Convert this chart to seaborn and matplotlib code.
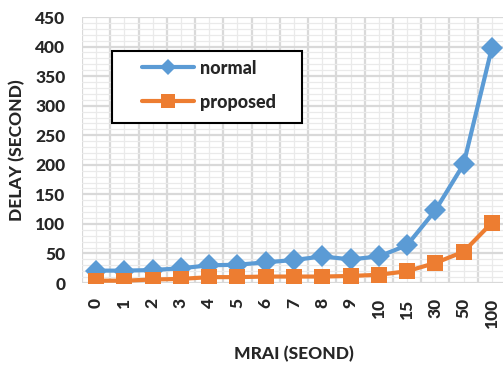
import matplotlib
matplotlib.use("Agg")
import matplotlib.pyplot as plt
import seaborn as sns
import pandas as pd
from matplotlib.patches import Rectangle
from matplotlib.ticker import MultipleLocator, FixedLocator

# MRAI settings and measured delays
mrai = ["0", "1", "2", "3", "4", "5", "6", "7", "8", "9", "10", "15", "30", "50", "100"]
normal = [21, 21, 22, 25, 30, 31, 35, 39, 45, 40, 45, 64, 123, 201, 398]
proposed = [4, 4, 6, 7, 10, 10, 11, 11, 11, 12, 14, 20, 34, 53, 102]

sns.set_style("white")
plt.rcParams["font.family"] = ["Lato", "DejaVu Sans"]
W = "black"  # heaviest weight for all text

pos = list(range(len(mrai)))
df = pd.DataFrame({
    "pos": pos * 2,
    "delay": normal + proposed,
    "series": ["normal"] * len(mrai) + ["proposed"] * len(mrai),
})

fig = plt.figure(figsize=(5.03, 3.70), dpi=100)
ax = fig.add_axes([0.163, 0.235, 0.843, 0.719])

blue = "#5B9BD5"
orange = "#ED7D31"
sns.lineplot(data=df, x="pos", y="delay", hue="series", style="series",
             palette={"normal": blue, "proposed": orange},
             markers={"normal": "D", "proposed": "s"}, dashes=False,
             linewidth=3, markeredgewidth=0, ax=ax, legend=True)
for line in ax.lines:
    if line.get_marker() == "s":
        line.set_markersize(12)
    elif line.get_marker() == "D":
        line.set_markersize(11)

ax.set_xlim(-0.5, len(mrai) - 0.5)
ax.set_ylim(0, 450)
ax.yaxis.set_major_locator(MultipleLocator(50))
ax.yaxis.set_minor_locator(MultipleLocator(10))
ax.xaxis.set_major_locator(FixedLocator(pos))
ax.xaxis.set_minor_locator(FixedLocator([p - 0.5 for p in pos] + [len(mrai) - 0.5]))
ax.set_xticklabels(mrai, rotation=90, va="top", ha="center", fontsize=12.5, fontweight=W)
for t in ax.get_yticklabels():
    t.set_fontsize(12.5)
    t.set_fontweight(W)

ax.grid(which="major", axis="y", color="#D9D9D9", linewidth=1.6)
ax.grid(which="minor", axis="y", color="#EAEAEA", linewidth=0.9)
ax.grid(which="minor", axis="x", color="#D9D9D9", linewidth=1.6)
ax.grid(which="major", axis="x", color="#EAEAEA", linewidth=0.9)
ax.set_axisbelow(True)
ax.tick_params(which="both", length=0)
ax.tick_params(axis="x", pad=11)
ax.tick_params(axis="y", pad=12)
for s in ax.spines.values():
    s.set_visible(False)

ax.set_xlabel("MRAI (SEOND)", fontsize=12.5, fontweight=W)
ax.xaxis.set_label_coords(0.5, -0.238)
ax.set_ylabel("DELAY (SECOND)", fontsize=12.5, fontweight=W)
ax.yaxis.set_label_coords(-0.134, 0.5)

# legend entries without frame, then a plain black box around them
handles, labels = ax.get_legend_handles_labels()
leg = ax.legend(handles, labels, loc="upper left", bbox_to_anchor=(0.1415, 0.84),
                borderaxespad=0, frameon=False, handlelength=2.9,
                labelspacing=0.95, borderpad=0, handletextpad=0.3,
                prop={"weight": W, "size": 13})
for h in leg.legend_handles:
    if h.get_marker() == "s":
        h.set_markersize(10)
    elif h.get_marker() == "D":
        h.set_markersize(8)
ax.add_patch(Rectangle((0.0708, 0.6015), 0.448, 0.2707, transform=ax.transAxes,
                       facecolor="white", edgecolor="black", linewidth=1.5, zorder=4))
leg.set_zorder(5)

fig.savefig("out.png", dpi=100)
